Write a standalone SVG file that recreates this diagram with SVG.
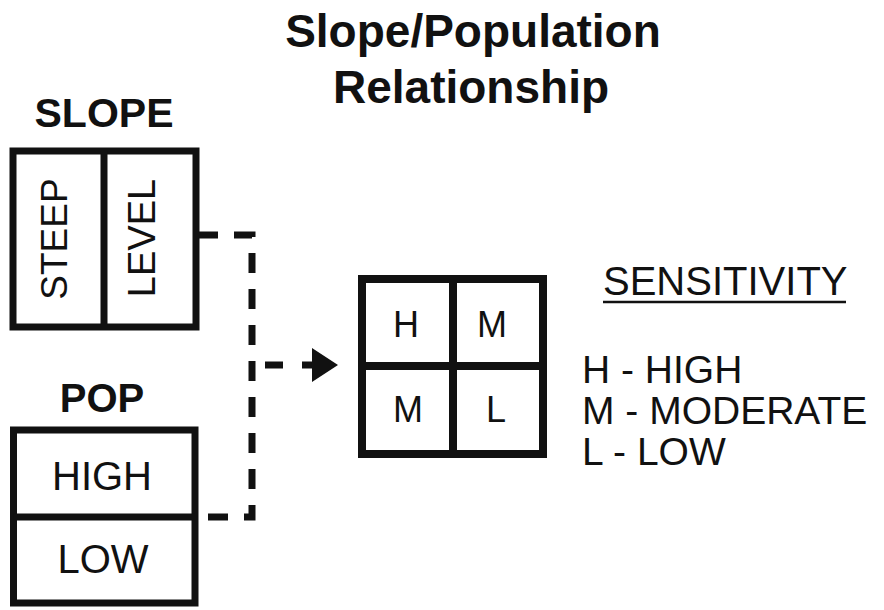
<svg xmlns="http://www.w3.org/2000/svg" width="884" height="610" viewBox="0 0 884 610">
  <style>
    .box { fill: none; stroke: #111; stroke-width: 7; }
    .div { stroke: #111; stroke-width: 7; }
    .t { font-family: "Liberation Sans", Arial, Helvetica, sans-serif; fill: #111; }
    .b { font-weight: bold; }
    .g { font-size: 36px; text-anchor: middle; }
    .lg { font-size: 39px; }
    .dash { fill: none; stroke: #111; stroke-width: 7; stroke-dasharray: 20 16; }
  </style>
  <defs>
    <marker id="arrow" markerWidth="26" markerHeight="34" refX="0" refY="17" markerUnits="userSpaceOnUse" orient="auto">
      <polygon points="0,0 26,17 0,34" fill="#111"/>
    </marker>
  </defs>
  <rect width="884" height="610" fill="#fff"/>

  <g id="title">
    <text class="t b" x="473" y="47" font-size="46" text-anchor="middle">Slope/Population</text>
    <text class="t b" x="471" y="103" font-size="46" text-anchor="middle">Relationship</text>
  </g>

  <g id="slope">
    <text class="t b" x="104" y="127" font-size="41" text-anchor="middle">SLOPE</text>
    <rect class="box" x="13" y="151" width="183" height="176"/>
    <line class="div" x1="104" y1="151" x2="104" y2="327"/>
    <text class="t" x="0" y="0" font-size="37" text-anchor="middle" transform="translate(67,239) rotate(-90)">STEEP</text>
    <text class="t" x="0" y="0" font-size="38" text-anchor="middle" transform="translate(155,238) rotate(-90)">LEVEL</text>
  </g>

  <g id="pop">
    <text class="t b" x="102" y="412" font-size="40" text-anchor="middle">POP</text>
    <rect class="box" x="13.5" y="430" width="181.5" height="173"/>
    <line class="div" x1="13.5" y1="517" x2="195" y2="517"/>
    <text class="t" x="102" y="490" font-size="40" text-anchor="middle">HIGH</text>
    <text class="t" x="103" y="573" font-size="40" text-anchor="middle">LOW</text>
  </g>

  <g id="grid">
    <rect x="362" y="279" width="181" height="175" fill="none" stroke="#111" stroke-width="8"/>
    <line x1="453" y1="279" x2="453" y2="454" stroke="#111" stroke-width="8"/>
    <line x1="362" y1="366" x2="543" y2="366" stroke="#111" stroke-width="8"/>
    <text class="t g" x="406" y="337">H</text>
    <text class="t g" x="492" y="337">M</text>
    <text class="t g" x="408" y="422">M</text>
    <text class="t g" x="496" y="422">L</text>
  </g>

  <g id="legend">
    <text class="t" x="603" y="295" font-size="40">SENSITIVITY</text>
    <line x1="603" y1="302" x2="846" y2="302" stroke="#111" stroke-width="2.5"/>
    <text class="t lg" x="582" y="383" xml:space="preserve">H - HIGH</text>
    <text class="t lg" x="582" y="424" xml:space="preserve">M - MODERATE</text>
    <text class="t lg" x="582" y="465" xml:space="preserve">L - LOW</text>
  </g>

  <g id="connectors">
    <path class="dash" d="M198,235 H252 V517 H198"/>
    <line x1="265" y1="365" x2="312" y2="365" stroke="#111" stroke-width="7" stroke-dasharray="18 19" marker-end="url(#arrow)"/>
  </g>
</svg>
